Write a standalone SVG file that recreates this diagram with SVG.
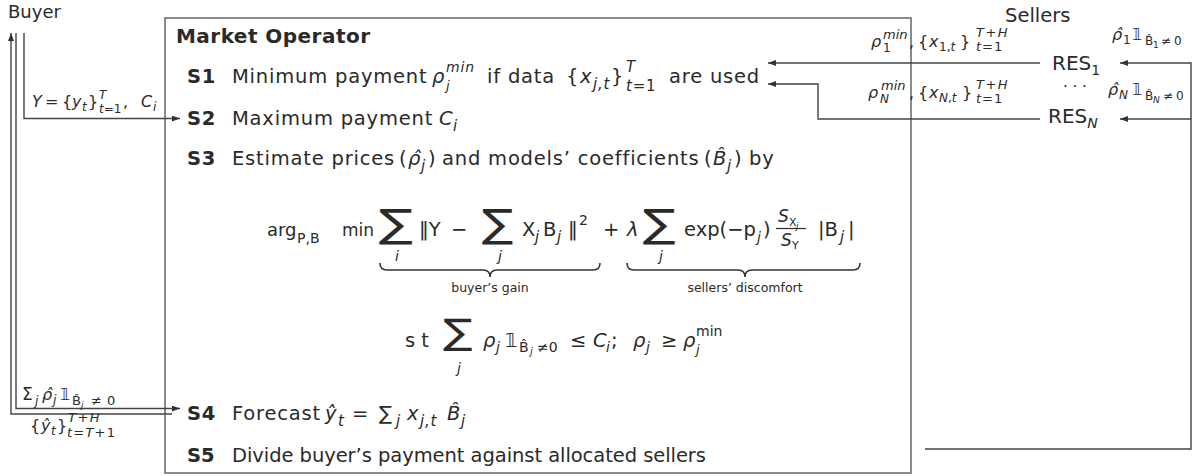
<svg xmlns="http://www.w3.org/2000/svg" width="1193" height="476" viewBox="0 0 1193 476">
<defs>
<marker id="ah" markerUnits="userSpaceOnUse" markerWidth="8" markerHeight="6" refX="8" refY="3" orient="auto"><path d="M0,0 L8,3 L0,6 z" fill="#333"/></marker>
<style>
text{font-family:"DejaVu Sans","Liberation Sans",sans-serif;fill:#2a2a2a}
.m{font-size:19.5px}
.ls{letter-spacing:0.8px}
.b{font-weight:bold}
.it{font-style:italic}
.sm{font-size:15px}
.s14{font-size:14px}
.xs{font-size:12px}
.xxs{font-size:9px}
.l{font-size:16px}
.sig{font-size:39px}
.sig2{font-size:35px}
.ln{fill:none;stroke:#444;stroke-width:1.4}
.ar{marker-end:url(#ah)}
.br{fill:none;stroke:#333;stroke-width:1.6}
</style>
</defs>
<rect width="1193" height="476" fill="#fff"/>

<g id="buyer"><text x="8" y="18" font-size="18">Buyer</text></g>
<g id="sellers"><text x="1005" y="22" font-size="19.5">Sellers</text></g>

<g id="res-1"><text x="1052" y="70" font-size="20">RES<tspan class="s14" y="75">1</tspan></text></g>
<g id="res-dots"><text x="1063" y="92" font-size="15">· · ·</text></g>
<g id="res-n"><text x="1048" y="123" font-size="20">RES<tspan class="s14 it" y="128">N</tspan></text></g>

<g id="market-operator">
<rect x="165" y="18" width="746" height="455" fill="none" stroke="#666" stroke-width="1.5"/>
<text class="b" x="176" y="43" font-size="20" textLength="194">Market Operator</text>

<text class="m ls" y="83"><tspan class="b" x="187">S1</tspan><tspan x="232">Minimum payment</tspan><tspan class="it" x="432">ρ</tspan><tspan class="it" font-size="13" x="446" y="90">j</tspan><tspan class="it s14" x="446" y="72">min</tspan><tspan x="487" y="83">if data</tspan><tspan x="566">{</tspan><tspan class="it" x="580">x</tspan><tspan class="it sm" x="593" y="89">j,t</tspan><tspan x="611" y="83">}</tspan><tspan class="it sm" x="626" y="72">T</tspan><tspan class="sm" x="626" y="91"><tspan class="it">t</tspan>=1</tspan><tspan x="669" y="83">are used</tspan></text>

<text class="m ls" y="125"><tspan class="b" x="187">S2</tspan><tspan x="232">Maximum payment</tspan><tspan class="it" x="439">C</tspan><tspan class="it sm" x="453" y="131">i</tspan></text>

<text class="m ls" y="165"><tspan class="b" x="187">S3</tspan><tspan x="232">Estimate prices</tspan><tspan x="399">(</tspan><tspan class="it" x="408">ρ̂</tspan><tspan class="it sm" x="421" y="171">j</tspan><tspan x="428" y="165">)</tspan><tspan x="442">and models’ coefficients</tspan><tspan x="704">(</tspan><tspan class="it" x="713">B̂</tspan><tspan class="it sm" x="727" y="171">j</tspan><tspan x="734" y="165">)</tspan><tspan x="749">by</tspan></text>

<text class="m" y="236"><tspan x="267" font-size="18">arg</tspan><tspan class="s14" x="297" y="243">P,B</tspan><tspan x="342" y="236" font-size="17">min</tspan><tspan class="it s14" x="395" y="261">i</tspan><tspan x="419" y="236">‖Y</tspan><tspan x="451">−</tspan><tspan class="it s14" x="498" y="261">j</tspan><tspan x="522" y="236">X</tspan><tspan class="it sm" x="535" y="242">j</tspan><tspan x="543" y="236">B</tspan><tspan class="it sm" x="557" y="242">j</tspan><tspan x="568" y="236">‖</tspan><tspan class="s14" x="579" y="225">2</tspan><tspan x="603" y="236">+</tspan><tspan class="it" x="627">λ</tspan><tspan class="it s14" x="659" y="261">j</tspan><tspan x="684" y="236">exp(−p</tspan><tspan class="it s14" x="757" y="242">j</tspan><tspan x="763" y="236">)</tspan><tspan class="it" x="778" y="222" font-size="17">S</tspan><tspan x="789" y="226" font-size="11">X</tspan><tspan class="it xxs" x="796" y="229">j</tspan><tspan class="it" x="781" y="246" font-size="17">S</tspan><tspan x="792" y="249" font-size="11">Y</tspan><tspan x="818" y="236">|B</tspan><tspan class="it sm" x="840" y="242">j</tspan><tspan x="848" y="236">|</tspan></text>
<text class="sig" transform="translate(379,237) scale(1.3,1)">∑</text>
<text class="sig" transform="translate(482,237) scale(1.2,1)">∑</text>
<text class="sig" transform="translate(643,237) scale(1.25,1)">∑</text>
<path d="M776,228.5 H806" stroke="#2a2a2a" stroke-width="1.2"/>
<path class="br" d="M380,263 Q380,270 387,270 L483,270 Q490,270 490,277 Q490,270 497,270 L593,270 Q600,270 600,263"/>
<path class="br" d="M627,263 Q627,270 634,270 L738,270 Q745,270 745,277 Q745,270 752,270 L853,270 Q860,270 860,263"/>
<text x="490" y="292" font-size="12.5" text-anchor="middle">buyer’s gain</text>
<text x="745" y="292" font-size="12.5" text-anchor="middle">sellers’ discomfort</text>

<text class="m" y="347"><tspan x="405">s t</tspan><tspan class="it s14" x="457" y="373">j</tspan><tspan class="it" x="483" y="347">ρ</tspan><tspan class="it s14" x="496" y="352">j</tspan><tspan x="505" y="347">𝟙</tspan><tspan class="s14" x="519" y="352">B̂</tspan><tspan class="it" font-size="10" x="530" y="355">j</tspan><tspan class="s14" x="537" y="352">≠0</tspan><tspan x="570" y="347">≤</tspan><tspan class="it" x="593">C</tspan><tspan class="it s14" x="606" y="352">i</tspan><tspan x="611" y="347">;</tspan><tspan class="it" x="633">ρ</tspan><tspan class="it s14" x="646" y="352">j</tspan><tspan x="661" y="347">≥</tspan><tspan class="it" x="683">ρ</tspan><tspan class="it" font-size="13" x="696" y="354">j</tspan><tspan class="s14" x="696" y="336">min</tspan></text>
<text class="sig2" transform="translate(443,344) scale(1.25,1)">∑</text>

<text class="m ls" y="420"><tspan class="b" x="187">S4</tspan><tspan x="232">Forecast</tspan><tspan class="it" x="325">ŷ</tspan><tspan class="it sm" x="338" y="426">t</tspan><tspan x="352" y="420">=</tspan><tspan x="379">∑</tspan><tspan class="it sm" x="396" y="426">j</tspan><tspan class="it" x="407" y="420">x</tspan><tspan class="it sm" x="420" y="426">j,t</tspan><tspan class="it" x="447" y="420">B̂</tspan><tspan class="it sm" x="461" y="426">j</tspan></text>

<text class="m" y="462"><tspan class="b" x="187">S5</tspan></text>
<text class="m" x="232" y="462" textLength="474" lengthAdjust="spacing">Divide buyer’s payment against allocated sellers</text>
</g>

<g id="connectors">
<path class="ln ar" d="M24,33 V118.5 H180"/>
<path class="ln ar" d="M172,414 H11 V33"/>
<path class="ln ar" d="M16,33 V408.5 H180"/>
<path class="ln ar" d="M1040,63 H768"/>
<path class="ln ar" d="M1040,119 H818 V84 H768"/>
<path class="ln ar" d="M925,449 H1191 V63 H1120"/>
<path class="ln ar" d="M1191,119 H1120"/>

<g id="connector-labels">
<text class="l" y="107"><tspan class="it" x="32">Y</tspan><tspan x="45">=</tspan><tspan x="62">{</tspan><tspan class="it" x="72">y</tspan><tspan class="it xs" x="82" y="111">t</tspan><tspan x="88" y="107">}</tspan><tspan class="it xs" x="99" y="99">T</tspan><tspan class="xs" x="99" y="113"><tspan class="it">t</tspan>=1</tspan><tspan x="123" y="107">,</tspan><tspan class="it" x="141">C</tspan><tspan class="it xs" x="153" y="111">i</tspan></text>

<text class="l" y="400"><tspan x="22" font-size="17">Σ</tspan><tspan class="it xs" x="35" y="405">j</tspan><tspan class="it" x="42" y="400">ρ̂</tspan><tspan class="it xs" x="53" y="404">j</tspan><tspan x="60" y="400">𝟙</tspan><tspan font-size="13" x="72" y="405">B̂</tspan><tspan class="it xxs" x="81" y="408">j</tspan><tspan font-size="13" x="91" y="405">≠</tspan><tspan font-size="13" x="107" y="405">0</tspan></text>

<text class="l" y="431"><tspan x="30">{</tspan><tspan class="it" x="41">ŷ</tspan><tspan class="it xs" x="51" y="435">t</tspan><tspan x="57" y="431">}</tspan><tspan font-size="13" letter-spacing="1.5" x="68" y="422"><tspan class="it">T</tspan>+<tspan class="it">H</tspan></tspan><tspan font-size="13" letter-spacing="1.2" x="67" y="437"><tspan class="it">t</tspan>=<tspan class="it">T</tspan>+1</tspan></text>

<text class="l" y="47"><tspan class="it" x="871">ρ</tspan><tspan class="xs" x="883" y="52">1</tspan><tspan class="it" font-size="13" x="883" y="39">min</tspan><tspan x="909" y="47">,</tspan><tspan x="918">{</tspan><tspan class="it" x="929">x</tspan><tspan class="xs" x="939" y="51">1,<tspan class="it">t</tspan></tspan><tspan x="960" y="47">}</tspan><tspan font-size="13" letter-spacing="1.5" x="976" y="37"><tspan class="it">T</tspan>+<tspan class="it">H</tspan></tspan><tspan font-size="13" letter-spacing="1" x="976" y="51"><tspan class="it">t</tspan>=1</tspan></text>

<text class="l" y="98"><tspan class="it" x="868">ρ</tspan><tspan class="it xs" x="880" y="103">N</tspan><tspan class="it" font-size="13" x="881" y="90">min</tspan><tspan x="909" y="98">,</tspan><tspan x="918">{</tspan><tspan class="it" x="929">x</tspan><tspan class="xs" x="939" y="102"><tspan class="it">N</tspan>,<tspan class="it">t</tspan></tspan><tspan x="962" y="98">}</tspan><tspan font-size="13" letter-spacing="1.5" x="976" y="89"><tspan class="it">T</tspan>+<tspan class="it">H</tspan></tspan><tspan font-size="13" letter-spacing="1" x="976" y="103"><tspan class="it">t</tspan>=1</tspan></text>

<text class="l" y="40"><tspan class="it" x="1112">ρ̂</tspan><tspan class="xs" x="1123" y="44">1</tspan><tspan x="1132" y="40">𝟙</tspan><tspan class="xs" x="1145" y="45">B̂</tspan><tspan class="xxs" x="1153" y="48">1</tspan><tspan class="xs" x="1161" y="45">≠</tspan><tspan class="xs" x="1174" y="45">0</tspan></text>

<text class="l" y="95"><tspan class="it" x="1108">ρ̂</tspan><tspan class="it xs" x="1119" y="99">N</tspan><tspan x="1132" y="95">𝟙</tspan><tspan class="xs" x="1145" y="100">B̂</tspan><tspan class="it xxs" x="1153" y="103">N</tspan><tspan class="xs" x="1163" y="100">≠</tspan><tspan class="xs" x="1176" y="100">0</tspan></text>
</g>
</g>
</svg>
